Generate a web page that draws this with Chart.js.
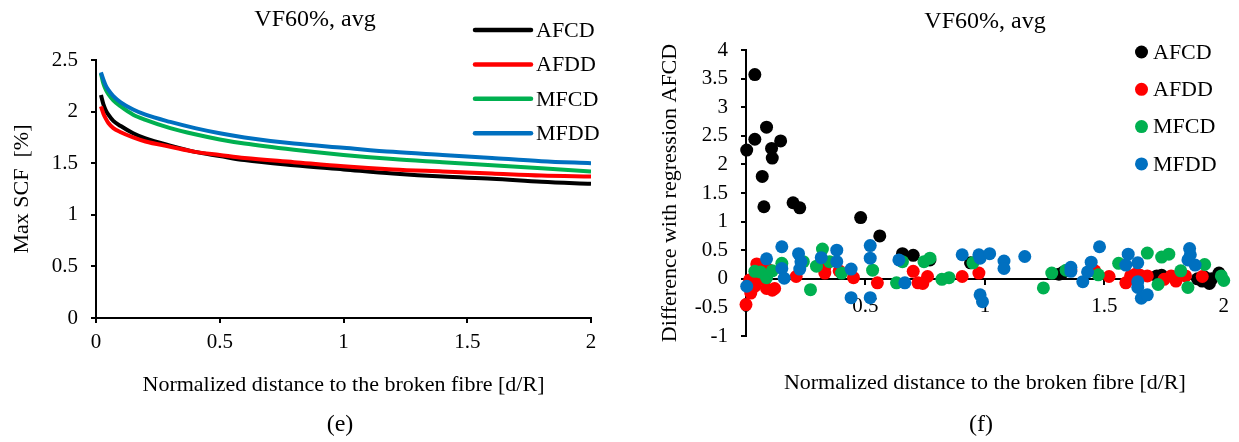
<!DOCTYPE html>
<html>
<head>
<meta charset="utf-8">
<script src="https://cdn.jsdelivr.net/npm/chart.js@4.4.1/dist/chart.umd.min.js"></script>
<style>
  body { margin: 0; background: #fff; }
  #wrap { position: relative; width: 1239px; height: 442px; overflow: hidden; font-family: 'Liberation Serif', 'Times New Roman', serif; }
  .panel { position: absolute; top: 0; height: 442px; }
  .txt { position: absolute; transform: translate(-50%, -50%); white-space: nowrap; color: #000; line-height: 1; }
</style>
</head>
<body>
<div id="wrap">
  <div class="panel" style="left:0;width:620px"><canvas id="scfChart" width="620" height="442"></canvas></div>
  <div class="panel" style="left:620px;width:619px"><canvas id="diffChart" width="619" height="442"></canvas></div>
  <div class="txt" style="left:315px;top:18px;font-size:24px">VF60%, avg</div>
  <div class="txt" style="left:985px;top:20px;font-size:24px">VF60%, avg</div>
  <div class="txt" style="left:340px;top:423px;font-size:24px">(e)</div>
  <div class="txt" style="left:981px;top:423px;font-size:24px">(f)</div>
</div>
<script>
// series names + colours (Excel-ish)
const seriesNames = ['AFCD', 'AFDD', 'MFCD', 'MFDD'];
const seriesColors = ['#000000', '#ff0000', '#00b050', '#0070c0'];

// (e) max SCF vs normalized distance
const distance = [0.02, 0.03, 0.04, 0.05, 0.07, 0.1, 0.15, 0.2, 0.3, 0.4, 0.5, 0.6, 0.8, 1.0, 1.2, 1.4, 1.6, 1.8, 2.0];
const scfAFCD = [2.16, 2.07, 2.01, 1.97, 1.91, 1.86, 1.79, 1.74, 1.67, 1.61, 1.57, 1.53, 1.48, 1.44, 1.40, 1.37, 1.35, 1.32, 1.30];
const scfAFDD = [2.05, 1.98, 1.93, 1.89, 1.84, 1.80, 1.75, 1.71, 1.66, 1.61, 1.58, 1.55, 1.51, 1.47, 1.44, 1.42, 1.40, 1.38, 1.37];
const scfMFCD = [2.37, 2.27, 2.21, 2.17, 2.11, 2.05, 1.97, 1.92, 1.84, 1.78, 1.73, 1.69, 1.63, 1.58, 1.54, 1.51, 1.48, 1.45, 1.42];
const scfMFDD = [2.38, 2.31, 2.25, 2.21, 2.15, 2.09, 2.02, 1.97, 1.90, 1.84, 1.79, 1.75, 1.69, 1.65, 1.61, 1.58, 1.55, 1.52, 1.50];

// (f) difference with regression AFCD
const afcdX = [0.003, 0.037, 0.037, 0.086, 0.068, 0.075, 0.107, 0.11, 0.145, 0.197, 0.225, 0.48, 0.56, 0.655, 0.70, 0.77, 0.94, 1.31, 1.33, 1.72, 1.74, 1.89, 1.91, 1.92, 1.95, 1.94, 1.98];
const afcdY = [2.25, 3.57, 2.44, 2.65, 1.79, 1.26, 2.28, 2.11, 2.41, 1.33, 1.24, 1.07, 0.75, 0.44, 0.41, 0.33, 0.28, 0.08, 0.12, 0.05, 0.06, 0.0, -0.04, 0.03, 0.0, -0.08, 0.1];
const afddX = [0.0, 0.015, 0.02, 0.037, 0.045, 0.05, 0.06, 0.086, 0.09, 0.11, 0.12, 0.21, 0.33, 0.33, 0.39, 0.45, 0.55, 0.70, 0.72, 0.74, 0.76, 0.905, 0.975, 1.36, 1.46, 1.52, 1.59, 1.61, 1.63, 1.65, 1.68, 1.75, 1.78, 1.80, 1.84, 1.91];
const afddY = [-0.45, -0.02, -0.25, -0.13, 0.26, 0.05, 0.0, -0.17, 0.17, -0.2, -0.17, 0.04, 0.1, 0.2, 0.14, 0.02, -0.07, 0.13, -0.07, -0.08, 0.04, 0.04, 0.1, 0.16, 0.14, 0.04, -0.07, 0.05, 0.08, 0.06, 0.05, -0.01, 0.05, -0.04, 0.05, 0.04];
const mfcdX = [0.037, 0.06, 0.086, 0.11, 0.15, 0.24, 0.27, 0.295, 0.32, 0.35, 0.40, 0.53, 0.63, 0.655, 0.745, 0.77, 0.82, 0.85, 0.95, 1.245, 1.28, 1.34, 1.475, 1.56, 1.68, 1.725, 1.74, 1.77, 1.82, 1.85, 1.92, 1.99, 2.0];
const mfcdY = [0.13, 0.12, 0.02, 0.14, 0.27, 0.3, -0.19, 0.22, 0.52, 0.3, 0.1, 0.15, -0.07, 0.3, 0.3, 0.36, -0.01, 0.02, 0.28, -0.16, 0.1, 0.15, 0.07, 0.27, 0.45, -0.1, 0.38, 0.43, 0.14, -0.15, 0.25, 0.05, -0.03];
const mfddX = [0.003, 0.086, 0.15, 0.15, 0.16, 0.22, 0.225, 0.23, 0.315, 0.38, 0.38, 0.44, 0.44, 0.52, 0.52, 0.52, 0.64, 0.665, 0.905, 0.975, 0.98, 0.98, 0.99, 1.02, 1.08, 1.08, 1.167, 1.36, 1.36, 1.41, 1.43, 1.445, 1.48, 1.59, 1.60, 1.64, 1.64, 1.64, 1.655, 1.68, 1.857, 1.86, 1.85, 1.88];
const mfddY = [-0.13, 0.35, 0.56, 0.18, 0.01, 0.44, 0.17, 0.3, 0.37, 0.5, 0.3, 0.17, -0.33, 0.58, 0.36, -0.33, 0.33, -0.07, 0.42, 0.42, 0.36, -0.28, -0.4, 0.44, 0.31, 0.18, 0.39, 0.2, 0.13, -0.05, 0.12, 0.29, 0.56, 0.24, 0.43, -0.05, 0.28, -0.15, -0.34, -0.28, 0.53, 0.42, 0.33, 0.24];

const serif = "'Liberation Serif', 'Times New Roman', serif";
Chart.defaults.font.family = serif;
Chart.defaults.color = '#000';

const toPoints = (xs, ys) => xs.map((x, i) => ({ x: x, y: ys[i] }));
// plain numbers on the axes: 2 not 2.0
const plainTick = value => String(Math.round(value * 100) / 100);

// legend drawn inside the plot (Excel style), items taken from the datasets
function insideLegend(opts) {
  return {
    id: 'insideLegend',
    afterDraw(chart) {
      const ctx = chart.ctx;
      ctx.save();
      ctx.font = '22px ' + serif;
      ctx.textBaseline = 'middle';
      ctx.textAlign = 'left';
      chart.data.datasets.forEach((ds, i) => {
        const y = opts.y + i * opts.step;
        if (opts.kind === 'line') {
          ctx.strokeStyle = ds.borderColor;
          ctx.lineWidth = 4.5;
          ctx.lineCap = 'round';
          ctx.beginPath();
          ctx.moveTo(opts.x, y);
          ctx.lineTo(opts.x + 56, y);
          ctx.stroke();
        } else {
          ctx.fillStyle = ds.backgroundColor;
          ctx.beginPath();
          ctx.arc(opts.x, y, 6.5, 0, Math.PI * 2);
          ctx.fill();
        }
        ctx.fillStyle = '#000';
        ctx.fillText(ds.label, opts.textX, y + 1);
      });
      ctx.restore();
    }
  };
}

const tickFont = { size: 21 };
const titleFont = { size: 22 };
const axisGrid = { drawOnChartArea: false, color: '#000', lineWidth: 2, tickLength: 5 };
const axisBorder = { color: '#000', width: 2 };

// (e) line chart
const scfSeries = [scfAFCD, scfAFDD, scfMFCD, scfMFDD];
new Chart(document.getElementById('scfChart'), {
  type: 'line',
  data: {
    datasets: seriesNames.map((name, i) => ({
      label: name,
      data: toPoints(distance, scfSeries[i]),
      borderColor: seriesColors[i],
      backgroundColor: seriesColors[i],
      borderWidth: 4,
      pointRadius: 0,
      cubicInterpolationMode: 'monotone',
      fill: false,
      order: 3 - i
    }))
  },
  options: {
    responsive: false,
    animation: false,
    layout: { padding: { left: 9, top: 60, right: 29, bottom: 44 } },
    plugins: { legend: { display: false }, tooltip: { enabled: false }, title: { display: false } },
    scales: {
      x: {
        type: 'linear', min: 0, max: 2,
        ticks: { stepSize: 0.5, font: tickFont, padding: 7, maxRotation: 0, callback: plainTick },
        grid: axisGrid, border: axisBorder,
        title: { display: true, text: 'Normalized distance to the broken fibre [d/R]', font: titleFont, padding: 0 },
        afterFit: s => { s.height = 80; }
      },
      y: {
        type: 'linear', min: 0, max: 2.5,
        ticks: { stepSize: 0.5, font: tickFont, padding: 13, callback: plainTick },
        grid: axisGrid, border: axisBorder,
        title: { display: true, text: 'Max SCF  [%]', font: titleFont, padding: 0 },
        afterFit: s => { s.width = 87; }
      }
    }
  },
  plugins: [insideLegend({ kind: 'line', x: 475, textX: 536, y: 30, step: 34.4 })]
});

// (f) scatter chart
const diffX = [afcdX, afddX, mfcdX, mfddX];
const diffY = [afcdY, afddY, mfcdY, mfddY];
new Chart(document.getElementById('diffChart'), {
  type: 'scatter',
  data: {
    datasets: seriesNames.map((name, i) => ({
      label: name,
      data: toPoints(diffX[i], diffY[i]),
      backgroundColor: seriesColors[i],
      borderColor: seriesColors[i],
      borderWidth: 0,
      pointRadius: 6.5,
      clip: false,
      order: 3 - i
    }))
  },
  options: {
    responsive: false,
    animation: false,
    layout: { padding: { left: 37, top: 50, right: 13, bottom: 46 } },
    plugins: { legend: { display: false }, tooltip: { enabled: false }, title: { display: false } },
    scales: {
      x: {
        type: 'linear', min: 0, max: 2, position: { y: 0 },
        ticks: { stepSize: 0.5, font: tickFont, padding: 10, maxRotation: 0, callback: plainTick },
        grid: axisGrid, border: axisBorder
      },
      xTitle: {
        type: 'linear', axis: 'x', position: 'bottom', min: 0, max: 2,
        ticks: { display: false }, grid: { display: false }, border: { display: false },
        title: { display: true, text: 'Normalized distance to the broken fibre [d/R]', font: titleFont, padding: 0 },
        afterFit: s => { s.height = 60; }
      },
      y: {
        type: 'linear', min: -1, max: 4,
        ticks: { stepSize: 0.5, font: tickFont, padding: 13, callback: plainTick },
        grid: axisGrid, border: axisBorder,
        title: { display: true, text: 'Difference with regression AFCD', font: titleFont, padding: 0 },
        afterFit: s => { s.width = 89; }
      }
    }
  },
  plugins: [insideLegend({ kind: 'dot', x: 521.5, textX: 533, y: 52, step: 37.3 })]
});
</script>
</body>
</html>
